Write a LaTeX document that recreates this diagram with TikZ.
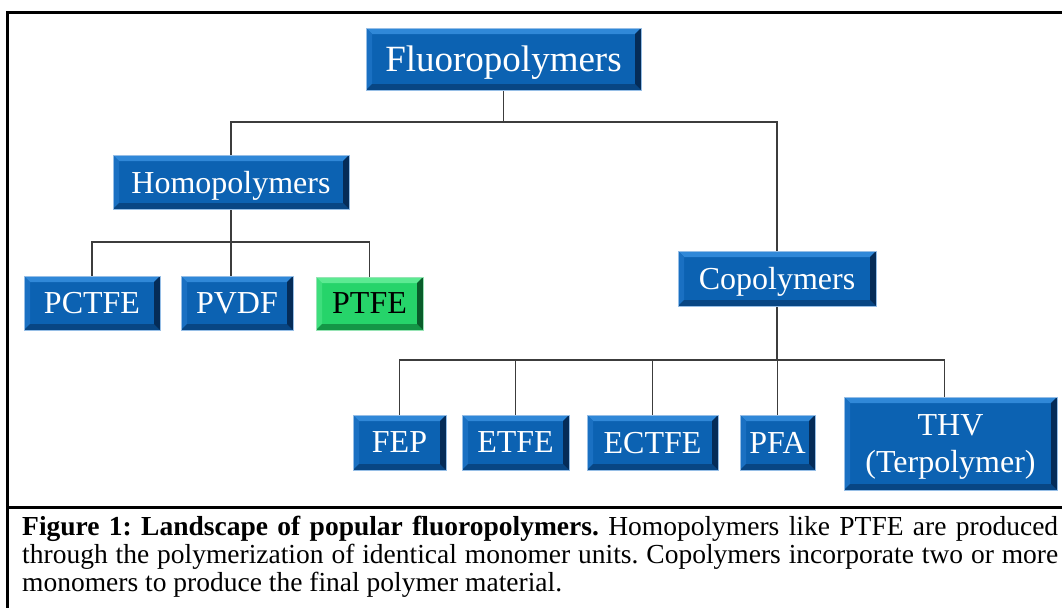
\documentclass[tikz,border=0pt]{standalone}
\usepackage{fontspec}
\setmainfont{Liberation Serif}
\pgfdeclarelayer{background}
\pgfsetlayers{background,main}

\definecolor{boxblue}{RGB}{12,98,178}
\definecolor{bluetop}{RGB}{48,136,216}
\definecolor{blueleft}{RGB}{26,112,194}
\definecolor{bluebot}{RGB}{8,70,132}
\definecolor{blueright}{RGB}{5,44,88}
\definecolor{blueedge}{RGB}{150,190,230}
\definecolor{boxgreen}{RGB}{38,212,106}
\definecolor{greentop}{RGB}{92,234,146}
\definecolor{greenleft}{RGB}{62,222,124}
\definecolor{greenbot}{RGB}{20,150,70}
\definecolor{greenright}{RGB}{10,92,42}
\definecolor{greenedge}{RGB}{150,228,180}
\definecolor{linkgray}{RGB}{60,60,60}

% bevelled edges of a box: top, left, bottom, right faces
\newcommand\drawbevel[4]{%
  \fill[#1] (path picture bounding box.north west) -- (path picture bounding box.north east)
    -- ([xshift=-6pt,yshift=-6pt]path picture bounding box.north east)
    -- ([xshift=6pt,yshift=-6pt]path picture bounding box.north west) -- cycle;
  \fill[#2] (path picture bounding box.north west) -- (path picture bounding box.south west)
    -- ([xshift=6pt,yshift=6pt]path picture bounding box.south west)
    -- ([xshift=6pt,yshift=-6pt]path picture bounding box.north west) -- cycle;
  \fill[#3] (path picture bounding box.south west) -- (path picture bounding box.south east)
    -- ([xshift=-6pt,yshift=6pt]path picture bounding box.south east)
    -- ([xshift=6pt,yshift=6pt]path picture bounding box.south west) -- cycle;
  \fill[#4] (path picture bounding box.north east) -- (path picture bounding box.south east)
    -- ([xshift=-6pt,yshift=6pt]path picture bounding box.south east)
    -- ([xshift=-6pt,yshift=-6pt]path picture bounding box.north east) -- cycle;
}

\tikzset{
  boxbase/.style={rectangle, line width=0.8pt, inner sep=0pt, align=center,
    text depth=0pt, font=\fontsize{32}{37}\selectfont},
  bluebox/.style={boxbase, draw=blueedge, fill=boxblue, text=white,
    path picture={\drawbevel{bluetop}{blueleft}{bluebot}{blueright}}},
  greenbox/.style={boxbase, draw=greenedge, fill=boxgreen, text=black,
    path picture={\drawbevel{greentop}{greenleft}{greenbot}{greenright}}},
  link/.style={draw=linkgray, line width=1.5pt},
  frameline/.style={draw=black, line width=3pt},
}

\begin{document}
\begin{tikzpicture}[x=1pt, y=-1pt]
\useasboundingbox (0,0) rectangle (1062,608);

% outer frame and caption divider
\draw[frameline] (1062,12) -- (7,12) -- (7,608);
\draw[frameline] (7,507) -- (1062,507);

% tree nodes
\node[bluebox, minimum width=275pt, minimum height=62pt, font=\fontsize{37}{40}\selectfont] (fluoro) at (503.5,59) {Fluoropolymers};
\node[bluebox, minimum width=236pt, minimum height=54pt] (homo) at (231,182) {Homopolymers};
\node[bluebox, minimum width=198pt, minimum height=55pt] (copo) at (777,278.5) {Copolymers};
\node[bluebox, minimum width=136pt, minimum height=54pt] (pctfe) at (92,303) {PCTFE};
\node[bluebox, minimum width=112pt, minimum height=54pt] (pvdf) at (237,303) {PVDF};
\node[greenbox, minimum width=107pt, minimum height=53pt] (ptfe) at (369.5,303.5) {PTFE};
\node[bluebox, minimum width=93pt, minimum height=55pt] (fep) at (399.5,442.5) {FEP};
\node[bluebox, minimum width=107pt, minimum height=55pt] (etfe) at (515.5,442.5) {ETFE};
\node[bluebox, minimum width=131pt, minimum height=55pt] (ectfe) at (652.5,442.5) {ECTFE};
\node[bluebox, minimum width=75pt, minimum height=55pt] (pfa) at (777.5,442.5) {PFA};
\node[bluebox, minimum width=213pt, minimum height=93pt] (thv) at (950.5,443.5) {THV\\(Terpolymer)};

% connectors behind the boxes
\begin{pgfonlayer}{background}
\coordinate (busA) at (0,122);
\coordinate (busB) at (0,242);
\coordinate (busC) at (0,360);
\draw[link] (fluoro) -- (fluoro |- busA);
\draw[link] (homo) |- (copo |- busA) -- (copo |- busC);
\draw[link] (homo) -- (homo |- pvdf.north);
\draw[link] (pctfe) |- (ptfe |- busB) -- (ptfe);
\draw[link] (fep) |- ([xshift=-6pt]thv.north |- busC) -- ([xshift=-6pt]thv.north);
\draw[link] (etfe) -- (etfe |- busC);
\draw[link] (ectfe) -- (ectfe |- busC);
\draw[link] (pfa) -- (pfa |- busC);
\end{pgfonlayer}

% caption
\node[anchor=north west, inner sep=0pt, text width=1036pt, align=justify,
      font=\fontsize{27.5}{27.8}\selectfont] (caption) at (22,516)
  {\frenchspacing\textbf{Figure 1: Landscape of popular fluoropolymers.} Homopolymers like PTFE are produced\linebreak
   through the polymerization of identical monomer units. Copolymers incorporate two or more\linebreak
   monomers to produce the final polymer material.};
\end{tikzpicture}
\end{document}
